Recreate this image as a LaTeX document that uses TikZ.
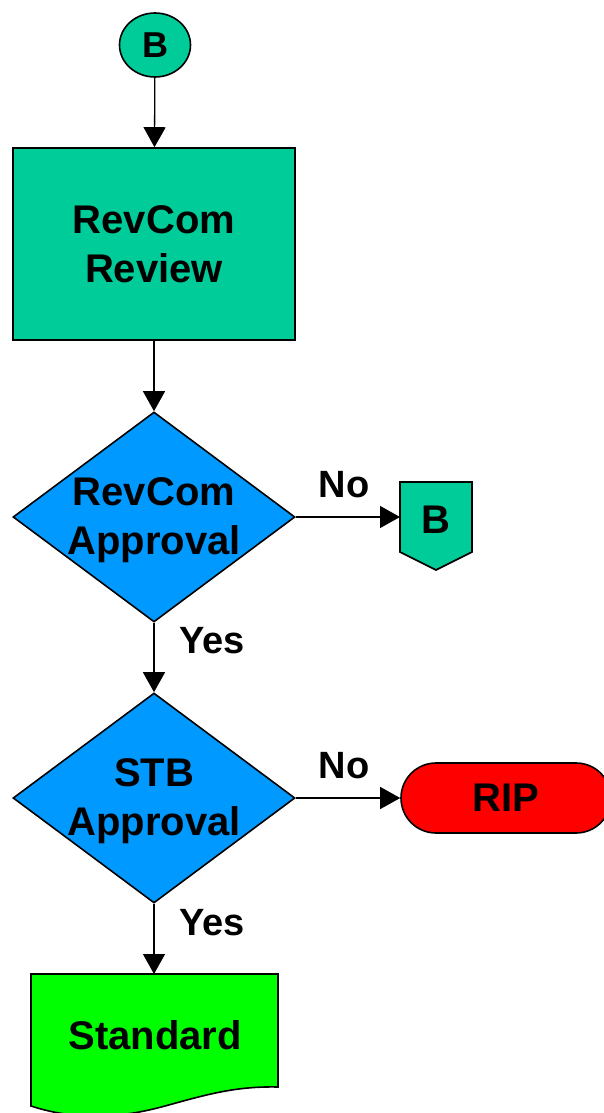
\documentclass[tikz,border=0pt]{standalone}
\usepackage{fontspec}
\setmainfont{Liberation Sans}
\usetikzlibrary{arrows.meta,shapes.geometric,shapes.misc}
\definecolor{teal1}{RGB}{0,204,153}
\definecolor{blue1}{RGB}{0,153,255}
\definecolor{red1}{RGB}{255,0,0}
\definecolor{green1}{RGB}{0,255,0}
\begin{document}
\begin{tikzpicture}[x=1pt,y=-1pt,
  shape line/.style={draw=black,line width=1.6pt},
  txt/.style={font=\fontsize{40}{49}\selectfont\bfseries,align=center},
  conn/.style={draw=black,line width=1.3pt,-{Triangle[length=20pt,width=22pt]}},
  lbl/.style={font=\fontsize{38}{44}\selectfont\bfseries},
  dec/.style={diamond,shape line,fill=blue1,minimum width=282pt,minimum height=210pt,inner sep=0pt}
]
\useasboundingbox (0,0) rectangle (603,1113);
% start connector
\node[ellipse,shape line,fill=teal1,minimum width=71pt,minimum height=64pt,inner sep=0pt,
      font=\fontsize{36}{40}\selectfont\bfseries] (b) at (155,45) {B};
% review box
\node[rectangle,shape line,fill=teal1,minimum width=282pt,minimum height=192pt,inner sep=0pt,txt] (rev) at (154,244) {RevCom\\Review};
% decisions
\node[dec] (d1) at (154,517) {};
\node[txt] (d1t) at (154,520) {RevCom\\Approval};
\node[dec] (d2) at (154,798) {};
\node[txt] (d2t) at (154,801) {STB\\Approval};
% off-page connector
\draw[shape line,fill=teal1] (400,482) -- (472,482) -- (472,552) -- (436,570) -- (400,552) -- cycle;
\node[txt] (offb) at (436,520) {B};
\coordinate (offin) at (400,517);
% RIP terminator
\node[rectangle,rounded corners=35pt,shape line,fill=red1,minimum width=210pt,minimum height=70pt,inner sep=0pt,txt] (rip) at (506,798) {RIP};
% document
\draw[shape line,fill=green1] (31,974) -- (278,974) -- (278,1087)
  .. controls (235,1086) and (205,1095) .. (165,1106)
  .. controls (125,1117) and (80,1122) .. (31,1106) -- cycle;
\coordinate (docin) at (154,974);
\node[txt] (std) at (155,1035) {Standard};
% connectors
\draw[conn] (b) -- (rev);
\draw[conn] (rev) -- (d1);
\draw[conn] (d1.east) -- (offin);
\draw[conn] (d1) -- (d2);
\draw[conn] (d2.east) -- (rip.west);
\draw[conn] (d2.south) -- (docin);
% labels
\node[lbl] (no1) at (344,485) {No};
\node[lbl] (yes1) at (212,641) {Yes};
\node[lbl] (no2) at (344,766) {No};
\node[lbl] (yes2) at (212,923) {Yes};
\end{tikzpicture}
\end{document}
